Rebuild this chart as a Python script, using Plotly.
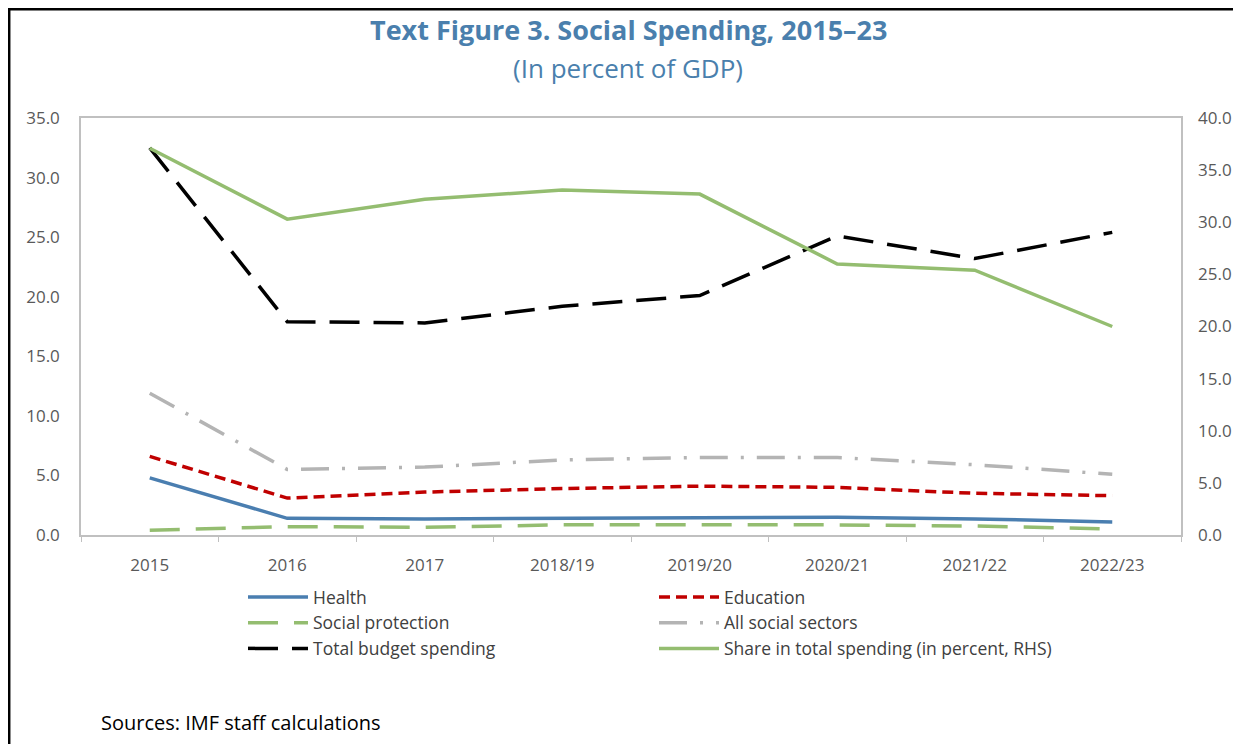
import plotly.graph_objects as go

categories = ["2015", "2016", "2017", "2018/19", "2019/20", "2020/21", "2021/22", "2022/23"]
health = [4.8, 1.4, 1.35, 1.4, 1.4, 1.5, 1.35, 1.1]
education = [6.6, 3.1, 3.6, 3.9, 4.1, 4.0, 3.5, 3.3]
social_protection = [0.4, 0.7, 0.65, 0.85, 0.85, 0.85, 0.75, 0.5]
all_social = [11.9, 5.5, 5.7, 6.3, 6.5, 6.5, 5.9, 5.1]
total_budget = [32.5, 17.9, 17.8, 19.2, 20.1, 25.1, 23.2, 25.4]
share_rhs = [37.1, 30.3, 32.2, 33.1, 32.7, 26.0, 25.4, 20.0]

FONT = "Open Sans"
BLUE_TITLE = "#4a7fad"
GREEN = "#94bd70"

# page body adds an 8px offset; figure area is 1233x736
W, H = 1233, 736
L, R, T, B = 73, 60, 110, 209
PW, PH = W - L - R, H - T - B  # 1100, 417


def px_x(x):
    return (x - L) / PW


def px_y(y):
    return 1 - (y - T) / PH


fig = go.Figure()
fig.add_trace(go.Scatter(x=categories, y=health, name="Health", mode="lines",
                         line=dict(color="#4a7eb0", width=3.5)))
fig.add_trace(go.Scatter(x=categories, y=education, name="Education", mode="lines",
                         line=dict(color="#c00000", width=3.5, dash="11px,6px")))
fig.add_trace(go.Scatter(x=categories, y=social_protection, name="Social protection", mode="lines",
                         line=dict(color=GREEN, width=3.5, dash="30px,16px")))
fig.add_trace(go.Scatter(x=categories, y=all_social, name="All social sectors", mode="lines",
                         line=dict(color="#b4b4b4", width=3.5, dash="28px,13px,3px,13px")))
fig.add_trace(go.Scatter(x=categories, y=total_budget, name="Total budget spending", mode="lines",
                         line=dict(color="#000000", width=3.5, dash="30px,14px")))
fig.add_trace(go.Scatter(x=categories, y=share_rhs, name="Share in total spending (in percent, RHS)",
                         mode="lines", yaxis="y2", line=dict(color=GREEN, width=3.5)))

axis_line = "#c0c0c0"
tick_font = dict(family=FONT, size=17, color="#595959")

fig.update_layout(
    width=W, height=H,
    margin=dict(l=L, r=R, t=T, b=B, autoexpand=False),
    paper_bgcolor="white", plot_bgcolor="white",
    font=dict(family=FONT),
    showlegend=True,
    xaxis=dict(type="category", range=[-0.5, len(categories) - 0.5], showgrid=False,
               showline=True, linecolor=axis_line, linewidth=1.5, mirror=True,
               ticks="outside", tickson="boundaries", ticklen=5, tickcolor=axis_line,
               tickfont=tick_font, ticklabelstandoff=14, zeroline=False),
    yaxis=dict(range=[0, 35], dtick=5, tickformat=".1f", showgrid=False, showline=True,
               linecolor=axis_line, linewidth=1.5, mirror=True, ticks="", tickfont=tick_font,
               ticklabelstandoff=16, zeroline=False),
    yaxis2=dict(range=[0, 40], dtick=5, tickformat=".1f", overlaying="y", side="right",
                showgrid=False, showline=False, ticks="", tickfont=tick_font,
                ticklabelstandoff=16, zeroline=False),
    legend=dict(orientation="h", x=px_x(243 - 8), xanchor="left", y=px_y(579 - 8), yanchor="top",
                entrywidth=336, entrywidthmode="pixels", itemwidth=60,
                font=dict(family=FONT, size=17.5, color="#404040"),
                tracegroupgap=0, bgcolor="rgba(0,0,0,0)"),
    annotations=[
        dict(text="<b>Text Figure 3. Social Spending, 2015–23</b>", xref="paper", yref="paper",
             x=px_x(628 - 8), y=px_y(30 - 8), xanchor="center", yanchor="middle", showarrow=False,
             font=dict(family=FONT, size=27, color=BLUE_TITLE)),
        dict(text="(In percent of GDP)", xref="paper", yref="paper",
             x=px_x(628 - 8), y=px_y(68 - 8), xanchor="center", yanchor="middle", showarrow=False,
             font=dict(family=FONT, size=26, color=BLUE_TITLE)),
        dict(text="Sources: IMF staff calculations", xref="paper", yref="paper",
             x=px_x(99 - 8), y=px_y(722 - 8), xanchor="left", yanchor="middle",
             showarrow=False, font=dict(family=FONT, size=20, color="#000000")),
    ],
    shapes=[
        dict(type="line", xref="paper", yref="paper", x0=px_x(0), x1=px_x(W),
             y0=px_y(1.2), y1=px_y(1.2), line=dict(color="black", width=2.5)),
        dict(type="line", xref="paper", yref="paper", x0=px_x(1.2), x1=px_x(1.2),
             y0=px_y(0), y1=px_y(H), line=dict(color="black", width=2.5)),
    ],
)

fig.write_html("out.html")
